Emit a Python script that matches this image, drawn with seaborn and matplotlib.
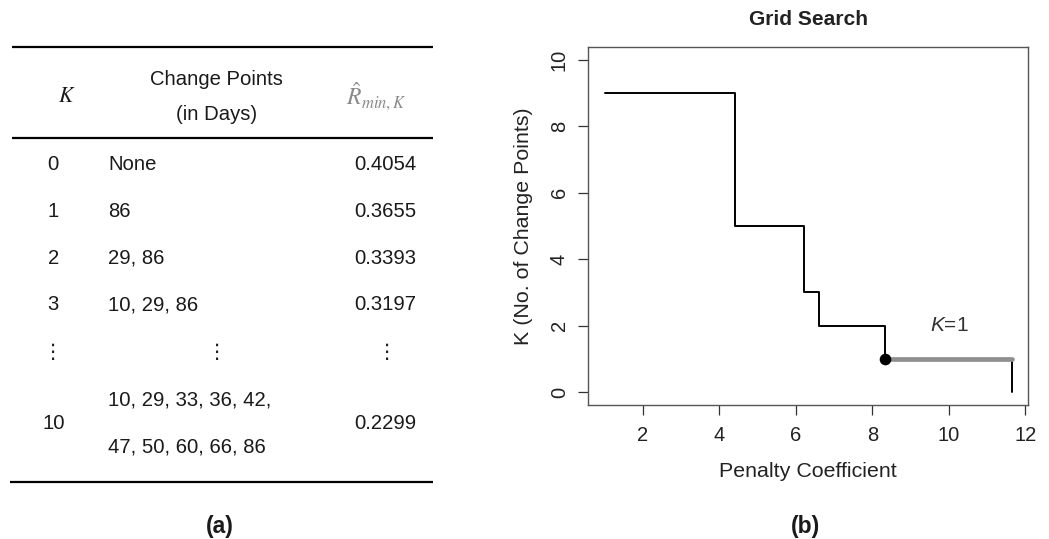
import matplotlib
matplotlib.use("Agg")
import matplotlib.pyplot as plt
import seaborn as sns

# ---------------- data ----------------
table_k = ["0", "1", "2", "3", "\u22ee", "10"]
table_cps = ["None", "86", "29, 86", "10, 29, 86", "\u22ee",
             "10, 29, 33, 36, 42,\n47, 50, 60, 66, 86"]
table_rmin = ["0.4054", "0.3655", "0.3393", "0.3197", "\u22ee", "0.2299"]

penalty = [1.0, 4.4, 6.2, 6.6, 8.33, 11.65]
k_found = [9, 5, 3, 2, 1, 0]
selected_k = 1

x_ticks = [2, 4, 6, 8, 10, 12]
y_ticks = [0, 2, 4, 6, 8, 10]

# ---------------- style ----------------
sns.set_style("ticks")
plt.rcParams["font.family"] = ["Liberation Sans", "DejaVu Sans"]
plt.rcParams["mathtext.fontset"] = "custom"
plt.rcParams["mathtext.rm"] = "Liberation Sans"
plt.rcParams["mathtext.it"] = "Liberation Sans:italic"

TXT = "#1a1a1a"
W, H = 1049, 539
fig = plt.figure(figsize=(W / 100, H / 100), dpi=100)

# ---------------- table (a) ----------------
tab = fig.add_axes([0, 0, 1, 1])
tab.set_xlim(0, W)
tab.set_ylim(H, 0)
tab.axis("off")

fs = 14.6
for y in (47.3, 137.7):
    tab.hlines(y, 12, 433, color="black", lw=1.6)
tab.hlines(481.7, 10, 433, color="black", lw=1.6)

tab.text(67, 97, r"$K$", math_fontfamily="stix", fontsize=15.5, ha="center",
         va="center", color=TXT)
tab.text(216.7, 79.3, "Change Points", fontsize=fs, ha="center", va="center", color=TXT)
tab.text(216.7, 115, "(in Days)", fontsize=fs, ha="center", va="center", color=TXT)
tab.text(376, 97, r"$\hat{R}_{min,K}$", math_fontfamily="stix", fontsize=17,
         ha="center", va="center", color="#8a8a8a")

row_y = [164.3, 211.3, 258.3, 305.0, 352.3, 423.3]
for i, yy in enumerate(row_y):
    tab.text(53.3, yy, table_k[i], fontsize=fs, ha="center", va="center", color=TXT)
    cps = table_cps[i]
    if cps == "\u22ee":
        tab.text(217, yy, cps, fontsize=fs, ha="center", va="center", color=TXT)
        tab.text(386.7, yy, table_rmin[i], fontsize=fs, ha="center", va="center", color=TXT)
        continue
    lines = cps.split("\n")
    if len(lines) == 1:
        tab.text(108.3, yy, cps, fontsize=fs, ha="left", va="center", color=TXT)
    else:
        tab.text(108.3, yy - 23.3, lines[0], fontsize=fs, ha="left", va="center", color=TXT)
        tab.text(108.3, yy + 23.3, lines[1], fontsize=fs, ha="left", va="center", color=TXT)
    tab.text(416.7, yy, table_rmin[i], fontsize=fs, ha="right", va="center", color=TXT)

tab.text(220, 526, "(a)", fontsize=16.5, fontweight="bold", ha="center", va="center", color=TXT)
tab.text(806, 527, "(b)", fontsize=16.5, fontweight="bold", ha="center", va="center", color=TXT)

# ---------------- plot (b) ----------------
left, right, top, bottom = 588.3, 1028.3, 46.7, 405.3
ax = fig.add_axes([left / W, 1 - bottom / H, (right - left) / W, (bottom - top) / H])
ax.set_facecolor("none")

sns.lineplot(x=penalty, y=k_found, drawstyle="steps-post", color="black",
             lw=1.4, ax=ax, estimator=None, sort=False, zorder=2)
sel = k_found.index(selected_k)
sns.lineplot(x=[penalty[sel], penalty[sel + 1]], y=[k_found[sel], k_found[sel]],
             color="#8f8f8f", lw=3.4, ax=ax, estimator=None, sort=False, zorder=3,
             solid_capstyle="round")
sns.scatterplot(x=[penalty[sel]], y=[k_found[sel]], color="black", s=70,
                edgecolor="black", linewidth=0, ax=ax, zorder=4)

ax.text(10, 2, r"$K$=1", fontsize=15, ha="center", va="center", color="#333333")

xr = max(penalty) - min(penalty)
ax.set_xlim(min(penalty) - 0.04 * xr, max(penalty) + 0.04 * xr)
ax.set_ylim(-0.4, 10.4)
ax.set_xticks(x_ticks)
ax.set_yticks(y_ticks)
ax.tick_params(axis="both", length=7, width=0.9, color="#333333",
               labelsize=14.5, labelcolor="#222222")
ax.tick_params(axis="x", pad=8)
ax.tick_params(axis="y", pad=7, labelrotation=90)
for lab in ax.get_yticklabels():
    lab.set_va("center")
for sp in ax.spines.values():
    sp.set_visible(True)
    sp.set_color("#555555")
    sp.set_linewidth(1.0)

ax.set_xlabel("Penalty Coefficient", fontsize=15.4, color="#222222")
ax.xaxis.set_label_coords(0.5, -(471.7 - bottom) / (bottom - top))
ax.xaxis.label.set_va("center")
ax.set_ylabel("K (No. of Change Points)", fontsize=15.4, color="#222222")
ax.yaxis.set_label_coords(-(left - 523.3) / (right - left), 0.5)
ax.yaxis.label.set_va("center")
ax.set_title("Grid Search", fontsize=15.1, fontweight="bold", color="#222222",
             y=1 + (top - 19.3) / (bottom - top), va="center", pad=0)

fig.savefig("out.png", dpi=100)
